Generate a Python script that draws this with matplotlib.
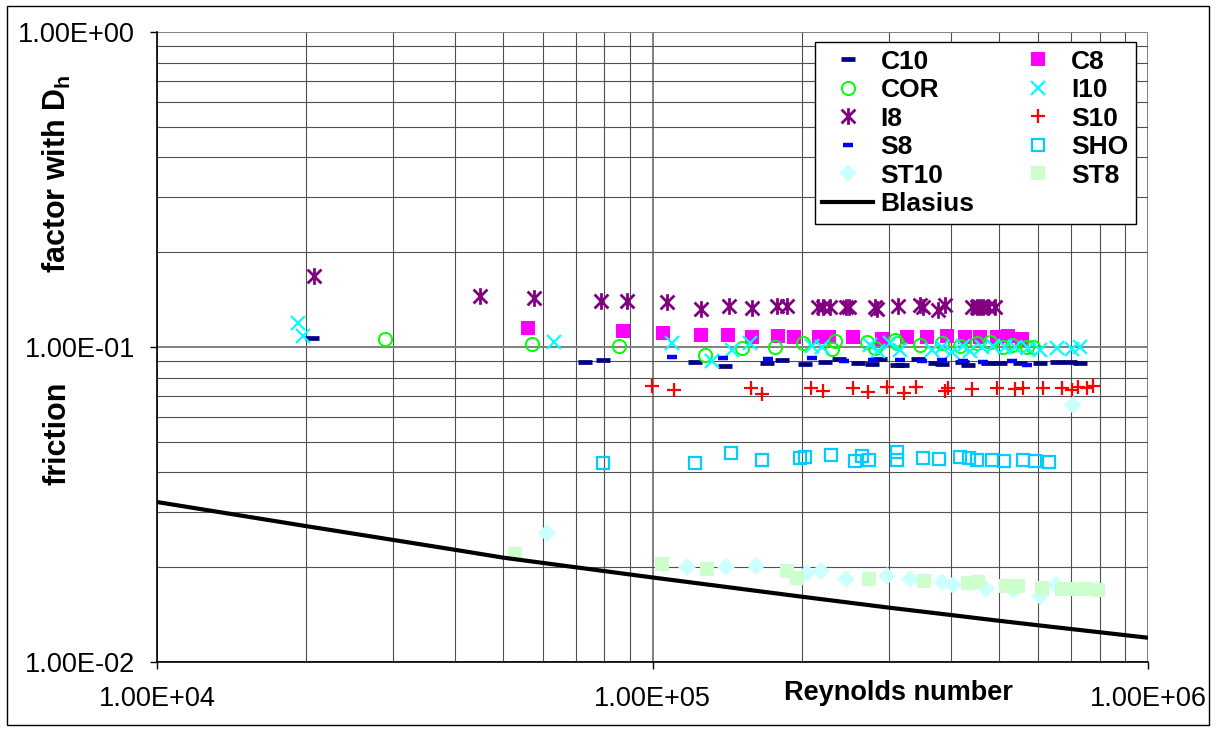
import matplotlib
matplotlib.use("Agg")
import matplotlib.pyplot as plt
from matplotlib.path import Path
from matplotlib.patches import Rectangle
from matplotlib.ticker import LogLocator, FuncFormatter, NullFormatter

plt.rcParams['font.family'] = ['Liberation Sans', 'DejaVu Sans']
plt.rcParams['mathtext.fontset'] = 'custom'
plt.rcParams['mathtext.rm'] = 'Liberation Sans'
plt.rcParams['mathtext.bf'] = 'Liberation Sans:bold'

# ---------------- data ----------------
c10_re = [20550, 73070, 79460, 121800, 140100, 170200, 182500, 203200, 222900, 237800, 259900,
          277300, 287900, 311500, 318800, 343400, 371700, 383900, 421400, 433300, 475400, 502900,
          551700, 605300, 655200, 696000, 729200]
c10_f = [0.1068, 0.0897, 0.0910, 0.0897, 0.0871, 0.0890, 0.0910, 0.0883, 0.0897, 0.0916, 0.0890,
         0.0883, 0.0916, 0.0877, 0.0877, 0.0916, 0.0890, 0.0883, 0.0897, 0.0877, 0.0890, 0.0890,
         0.0890, 0.0890, 0.0897, 0.0897, 0.0890]

c8_re = [56080, 87190, 105000, 125300, 142000, 158800, 179200, 193000, 216800, 227100, 254000,
         290500, 326300, 358100, 392900, 427200, 458100, 495600, 521800, 556900]
c8_f = [0.1149, 0.1124, 0.1108, 0.1091, 0.1091, 0.1075, 0.1083, 0.1075, 0.1075, 0.1075, 0.1075,
        0.1060, 0.1075, 0.1075, 0.1083, 0.1075, 0.1075, 0.1075, 0.1083, 0.1060]

cor_re = [28850, 57130, 85580, 127600, 151600, 176700, 201300, 230300, 233500, 271000, 281200,
          311500, 308700, 346700, 383900, 417400, 451900, 479800, 509900, 531600, 570000, 586100]
cor_f = [0.1060, 0.1022, 0.1007, 0.0943, 0.0993, 0.1000, 0.1030, 0.0986, 0.1045, 0.1037, 0.0993,
         0.1030, 0.1052, 0.1015, 0.1030, 0.1007, 0.1030, 0.1037, 0.1000, 0.1015, 0.1000, 0.1000]

i10_re = [19250, 19710, 63250, 109500, 131900, 144700, 157300, 209800, 219800, 274800, 285200,
          301500, 315800, 366500, 383900, 402100, 423300, 437400, 462400, 486600, 514400, 538900,
          572600, 605300, 655200, 702500, 729200]
i10_f = [0.1195, 0.1086, 0.1039, 0.1032, 0.0905, 0.0978, 0.1028, 0.1007, 0.1000, 0.1015, 0.0971,
         0.1030, 0.0978, 0.0978, 0.1000, 0.0964, 0.1007, 0.0971, 0.1000, 0.1007, 0.1000, 0.1000,
         0.0993, 0.0978, 0.0993, 0.0986, 0.1000]

i8_re = [20740, 44870, 57650, 78740, 88820, 106980, 125300, 142700, 158800, 178400, 186800,
         215800, 220900, 228200, 245700, 249300, 281200, 283900, 313000, 346700, 351600, 376900,
         389300, 441500, 451900, 458100, 464500, 475400, 491100]
i8_f = [0.168, 0.1452, 0.1431, 0.140, 0.140, 0.139, 0.132, 0.135, 0.133, 0.135, 0.135,
        0.134, 0.134, 0.134, 0.134, 0.134, 0.134, 0.132, 0.135, 0.136, 0.134, 0.131,
        0.136, 0.134, 0.134, 0.134, 0.134, 0.134, 0.134]

s10_re = [99770, 110500, 158000, 166300, 208900, 220900, 254000, 272200, 297300, 321800, 340200,
          389300, 394800, 441500, 495600, 538900, 559500, 614000, 670600, 702500, 722300, 753200,
          774400]
s10_f = [0.0752, 0.0730, 0.0740, 0.0708, 0.0743, 0.0725, 0.0743, 0.0718, 0.0748, 0.0716, 0.0748,
         0.0727, 0.0740, 0.0734, 0.0740, 0.0734, 0.0740, 0.0743, 0.0740, 0.0730, 0.0748, 0.0740,
         0.0752]

s8_re = [109500, 138800, 171000, 209800, 243500, 278600, 315800, 349900, 383900, 423300, 464500,
         531600, 570000]
s8_f = [0.0930, 0.0923, 0.0916, 0.0923, 0.0903, 0.0910, 0.0910, 0.0903, 0.0910, 0.0903, 0.0897,
        0.0903, 0.0877]

sho_re = [79600, 121700, 143700, 166200, 198200, 202700, 229600, 255700, 264400, 273000, 311200,
          312200, 352100, 378900, 417100, 435500, 451200, 483300, 511000, 558200, 590200, 631200]
sho_f = [0.0429, 0.0427, 0.0460, 0.0438, 0.0443, 0.0448, 0.0453, 0.0435, 0.0451, 0.0438, 0.0465,
         0.0438, 0.0445, 0.0440, 0.0448, 0.0443, 0.0438, 0.0438, 0.0435, 0.0438, 0.0435, 0.0432]

st10_re = [61340, 117500, 140500, 161400, 204600, 219000, 245900, 297700, 330600, 384600, 405000,
           471200, 535200, 605300, 653100, 705700]
st10_f = [0.0256, 0.0200, 0.0200, 0.0201, 0.0191, 0.0195, 0.0184, 0.0187, 0.0183, 0.0179, 0.0176,
          0.0171, 0.0169, 0.0162, 0.0176, 0.0655]

st8_re = [52720, 104700, 129000, 186700, 195800, 273000, 353400, 432900, 454000, 518000, 546600,
          611100, 669400, 708800, 754200, 794100]
st8_f = [0.0220, 0.0205, 0.0197, 0.0194, 0.0185, 0.0183, 0.0181, 0.0178, 0.0179, 0.0174, 0.0174,
         0.0172, 0.0171, 0.0171, 0.0171, 0.0169]

blasius_re = [1e4, 2e4, 3e4, 4e4, 5e4, 1e5, 2e5, 3e5, 4e5, 5e5, 6e5, 1e6]
blasius_f = [0.0322, 0.0270, 0.0244, 0.0227, 0.02144, 0.01855, 0.01612, 0.01488, 0.01410,
             0.01352, 0.01308, 0.01194]

x_ticks = [1e4, 1e5, 1e6]
y_ticks = [1e-2, 1e-1, 1e0]

# ---------------- figure ----------------
fig = plt.figure(figsize=(12.16, 7.29), dpi=100)
fig.patch.set_facecolor('white')
fig.patches.append(Rectangle((0.006, 0.006), 0.988, 0.986, transform=fig.transFigure,
                             fill=False, edgecolor='black', linewidth=1.0))

ax = fig.add_axes([157/1216, 1 - 662/729, (1148 - 157)/1216, (662 - 32)/729])
ax.set_xscale('log')
ax.set_yscale('log')
ax.set_xlim(1e4, 1e6)
ax.set_ylim(1e-2, 1e0)

ax.xaxis.set_major_locator(LogLocator(base=10))
ax.yaxis.set_major_locator(LogLocator(base=10))
ax.xaxis.set_minor_locator(LogLocator(base=10, subs=range(2, 10)))
ax.yaxis.set_minor_locator(LogLocator(base=10, subs=range(2, 10)))
ax.xaxis.set_minor_formatter(NullFormatter())
ax.yaxis.set_minor_formatter(NullFormatter())
fmt = FuncFormatter(lambda v, p: f"{v:.2E}")
ax.xaxis.set_major_formatter(fmt)
ax.yaxis.set_major_formatter(fmt)
ax.set_xticks(x_ticks)
ax.set_yticks(y_ticks)

ax.tick_params(which='major', direction='out', length=5, width=1, color='black',
               labelsize=19.5)
ax.tick_params(axis='x', which='major', pad=12)
ax.tick_params(axis='y', which='major', pad=11)
ax.tick_params(which='minor', length=0)

ax.grid(which='major', color='#808080', linewidth=1.4)
ax.grid(which='minor', color='#505050', linewidth=0.8)
ax.set_axisbelow(True)
for s in ['top', 'right']:
    ax.spines[s].set_visible(False)
for s in ['left', 'bottom']:
    ax.spines[s].set_color('black')
    ax.spines[s].set_linewidth(1.2)

# asterisk marker (x with vertical bar)
star_path = Path([(-0.5, -0.5), (0.5, 0.5), (-0.5, 0.5), (0.5, -0.5), (0, -0.6), (0, 0.6)],
                 [Path.MOVETO, Path.LINETO, Path.MOVETO, Path.LINETO, Path.MOVETO, Path.LINETO])

common = dict(linestyle='none', clip_on=False)
h_c10, = ax.plot(c10_re, c10_f, marker='_', ms=10.5, mew=3.4, color='#000080', label='C10', **common)
h_c8, = ax.plot(c8_re, c8_f, marker='s', ms=9.5, mew=0, color='#FF00FF', label='C8', **common)
h_cor, = ax.plot(cor_re, cor_f, marker='o', ms=9.5, mew=1.4, mfc='none', mec='#00FF00', label='COR', **common)
h_i10, = ax.plot(i10_re, i10_f, marker='x', ms=9.5, mew=1.6, color='#00FFFF', label='I10', **common)
h_i8, = ax.plot(i8_re, i8_f, marker=star_path, ms=12, mew=2.0, mfc='none', mec='#800080', label='I8', **common)
h_s10, = ax.plot(s10_re, s10_f, marker='+', ms=10.5, mew=1.6, color='#FF0000', label='S10', **common)
h_s8, = ax.plot(s8_re, s8_f, marker='_', ms=6.5, mew=3.2, color='#0000FF', label='S8', **common)
h_sho, = ax.plot(sho_re, sho_f, marker='s', ms=9.0, mew=1.6, mfc='none', mec='#00CCFF', label='SHO', **common)
h_st10, = ax.plot(st10_re, st10_f, marker='D', ms=8.8, mew=0, color='#CCFFFF', label='ST10', **common)
h_st8, = ax.plot(st8_re, st8_f, marker='s', ms=9.5, mew=0, color='#CCFFCC', label='ST8', **common)
h_bl, = ax.plot(blasius_re, blasius_f, color='black', linewidth=3.0, label='Blasius')

handles = [h_c10, h_cor, h_i8, h_s8, h_st10, h_bl, h_c8, h_i10, h_s10, h_sho, h_st8]
leg = ax.legend(handles=handles, labels=[h.get_label() for h in handles], ncol=2,
                loc='upper right', bbox_to_anchor=(1136/1216, 1 - 41.7/729),
                bbox_transform=fig.transFigure, borderaxespad=0,
                prop={'weight': 'bold', 'size': 19}, frameon=True, fancybox=False,
                edgecolor='black', facecolor='white', framealpha=1,
                handlelength=1.9, handletextpad=0.3, columnspacing=1.45,
                labelspacing=0.17, borderpad=0.3, numpoints=1)
leg.get_frame().set_linewidth(1.0)

fig.text(898/1216, 1 - 693/729, 'Reynolds number', ha='center', va='center',
         fontsize=19.5, fontweight='bold')
fig.text(57/1216, 1 - 433/729, 'friction', rotation=90, ha='center', va='center',
         fontsize=22, fontweight='bold')
fig.text(57/1216, 1 - 174/729, r'factor with D$_\mathbf{h}$', rotation=90, ha='center',
         va='center', fontsize=22, fontweight='bold')

fig.savefig('out.png', dpi=100, facecolor='white')
